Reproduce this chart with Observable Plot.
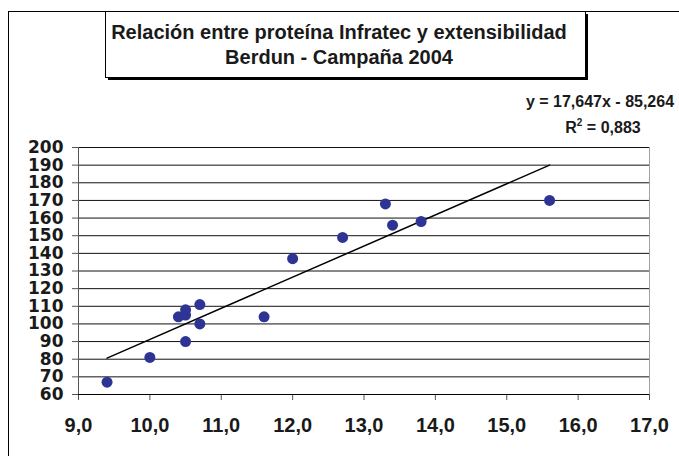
<!DOCTYPE html>
<html><head><meta charset="utf-8">
<script src="https://cdn.jsdelivr.net/npm/d3@7"></script>
<script src="https://cdn.jsdelivr.net/npm/@observablehq/plot@0.6"></script>
<style>body{margin:0;background:#fff;} svg{display:block}</style>
</head><body><div id="chart"></div>
<script>
const titleLines = ["Relación entre proteína Infratec y extensibilidad", "Berdun - Campaña 2004"];
const equationText = "y = 17,647x - 85,264";
const r2Text = " = 0,883";
const slope = 17.647;
const intercept = -85.264;
const protein = [9.4, 10.0, 10.5, 10.4, 10.5, 10.5, 10.7, 10.7, 11.6, 12.0, 12.7, 13.3, 13.4, 13.8, 15.6];
const extensibility = [67, 81, 90, 104, 105, 108, 111, 100, 104, 137, 149, 168, 156, 158, 170];
const xTicks = [9, 10, 11, 12, 13, 14, 15, 16, 17];
const xTickLabels = ["9,0", "10,0", "11,0", "12,0", "13,0", "14,0", "15,0", "16,0", "17,0"];
const yTicks = [60, 70, 80, 90, 100, 110, 120, 130, 140, 150, 160, 170, 180, 190, 200];

const data = protein.map((x, i) => ({x, y: extensibility[i]}));
const trend = d3.extent(protein).map(x => ({x, y: slope * x + intercept}));
const font = "'Liberation Sans', Arial, sans-serif";

const plot = Plot.plot({
  width: 679, height: 456,
  marginLeft: 78, marginRight: 30, marginTop: 147, marginBottom: 62,
  style: {fontFamily: font, background: "#fff", overflow: "visible"},
  x: {domain: [9, 17]},
  y: {domain: [60, 200]},
  marks: [
    Plot.ruleY(yTicks, {stroke: "#111", strokeWidth: 1}),
    Plot.ruleX([17], {stroke: "#a0a0a0"}),
    Plot.ruleX([9], {stroke: "#555"}),
    Plot.axisY({ticks: yTicks, tickSize: 6, tickPadding: 9, fontSize: 17, fontWeight: "bold", fontFamily: "'DejaVu Sans', sans-serif", fill: "#1a1a1a", stroke: "#555", label: null}),
    Plot.axisX({ticks: xTicks, tickFormat: d => xTickLabels[xTicks.indexOf(d)], tickSize: 6, tickPadding: 17, fontSize: 20, fontWeight: "bold", fill: "#1a1a1a", stroke: "#555", label: null}),
    Plot.ruleY([60], {stroke: "#000"}),
    Plot.line(trend, {x: "x", y: "y", stroke: "#000", strokeWidth: 1.5}),
    Plot.dot(data, {x: "x", y: "y", r: 5.5, fill: "#2D3494"})
  ]
});

const svg = d3.select(plot);
svg.append("rect").attr("x", 8.5).attr("y", 11.5).attr("width", 720).attr("height", 520)
  .attr("fill", "none").attr("stroke", "#000");
svg.append("rect").attr("x", 108).attr("y", 14).attr("width", 480).attr("height", 66).attr("fill", "#000");
svg.append("rect").attr("x", 105.5).attr("y", 11.5).attr("width", 480).attr("height", 66)
  .attr("fill", "#fff").attr("stroke", "#000");
titleLines.forEach((t, i) => {
  svg.append("text").attr("x", 339).attr("y", 39 + i * 25).attr("text-anchor", "middle")
    .attr("font-family", font).attr("font-weight", "bold").attr("font-size", 20).attr("fill", "#1a1a1a").text(t);
});
svg.append("text").attr("x", 600).attr("y", 107).attr("text-anchor", "middle")
  .attr("font-family", font).attr("font-weight", "bold").attr("font-size", 16).attr("fill", "#1a1a1a").text(equationText);
const r2 = svg.append("text").attr("x", 603).attr("y", 133).attr("text-anchor", "middle")
  .attr("font-family", font).attr("font-weight", "bold").attr("font-size", 16).attr("fill", "#1a1a1a");
r2.append("tspan").text("R");
r2.append("tspan").attr("font-size", 10).attr("dy", -7).text("2");
r2.append("tspan").attr("dy", 7).text(r2Text);

document.getElementById("chart").appendChild(plot);
</script>
</body></html>
